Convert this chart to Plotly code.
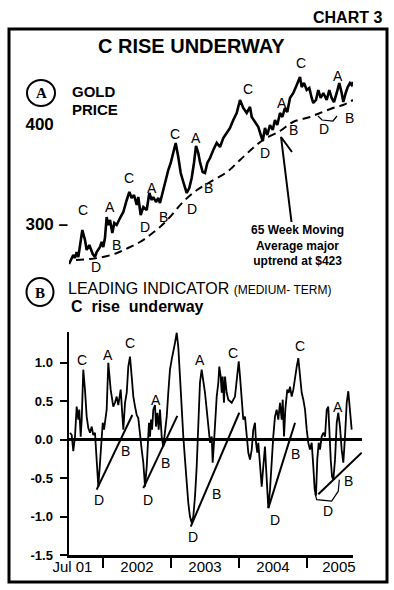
import plotly.graph_objects as go

W, H = 394, 590


def px(x):
    return x / W


def py(y):
    return 1 - y / H


SANS = "Liberation Sans, Arial, sans-serif"
NARROW = "Liberation Sans Narrow, Arial Narrow, Liberation Sans, sans-serif"
SERIF = "Liberation Serif, Times New Roman, serif"

# ---------------- data: gold price (weekly) ----------------
gold_t = [2001.50, 2001.515, 2001.563, 2001.588, 2001.613, 2001.637, 2001.662, 2001.696, 2001.735, 2001.760,
          2001.799, 2001.849, 2001.882, 2001.907, 2001.956, 2001.981, 2002.004, 2002.029, 2002.054, 2002.078,
          2002.103, 2002.137, 2002.166, 2002.201, 2002.250, 2002.299, 2002.349, 2002.387, 2002.422, 2002.456,
          2002.496, 2002.519, 2002.554, 2002.593, 2002.643, 2002.681, 2002.716, 2002.740, 2002.779, 2002.813,
          2002.838, 2002.887, 2002.937, 2002.960, 2002.996, 2003.034, 2003.069, 2003.107, 2003.143, 2003.181,
          2003.231, 2003.269, 2003.304, 2003.338, 2003.368, 2003.401, 2003.426, 2003.466, 2003.500, 2003.534,
          2003.574, 2003.622, 2003.672, 2003.721, 2003.769, 2003.819, 2003.868, 2003.916, 2003.966, 2004.015,
          2004.063, 2004.113, 2004.162, 2004.187, 2004.235, 2004.284, 2004.334, 2004.349, 2004.382, 2004.416,
          2004.456, 2004.496, 2004.529, 2004.563, 2004.603, 2004.637, 2004.676, 2004.710, 2004.750, 2004.799,
          2004.849, 2004.897, 2004.922, 2004.956, 2004.996, 2005.034, 2005.069, 2005.093, 2005.132, 2005.166,
          2005.201, 2005.240, 2005.290, 2005.328, 2005.363, 2005.397, 2005.437, 2005.475, 2005.510, 2005.534,
          2005.569, 2005.599, 2005.632, 2005.657, 2005.676]
gold_price = [260, 262, 269, 266, 272, 267, 277, 294, 284, 274,
              279, 270, 267, 272, 277, 282, 277, 286, 307, 299,
              304, 291, 301, 299, 306, 312, 324, 332, 326, 329,
              319, 327, 309, 317, 314, 331, 324, 327, 322, 326,
              321, 334, 349, 354, 361, 371, 381, 367, 351, 342,
              331, 336, 346, 361, 378, 371, 362, 352, 351, 361,
              366, 374, 381, 377, 386, 391, 396, 404, 411, 424,
              416, 411, 417, 407, 402, 397, 386, 383, 396, 389,
              399, 394, 404, 399, 411, 407, 416, 412, 426, 431,
              439, 447, 437, 441, 434, 436, 426, 421, 424, 434,
              426, 431, 424, 434, 426, 422, 431, 441, 431, 422,
              431, 437, 441, 439, 442]

# 65 week moving average
ma_t = [2001.603, 2001.809, 2002.000, 2002.206, 2002.368, 2002.544, 2002.691, 2002.838, 2002.985, 2003.176,
        2003.382, 2003.574, 2003.824, 2004.015, 2004.206, 2004.353, 2004.603, 2004.794, 2005.044, 2005.191,
        2005.382, 2005.529, 2005.676]
ma_price = [264, 265, 267, 271, 276, 282, 289, 297, 307, 322,
            334, 342, 352, 364, 376, 384, 393, 402, 407, 411,
            416, 419, 424]

gold_ticks = [300, 400]
gold_ticktext = ["300 \u2013", "400\u00a0\u00a0\u00a0"]

# wave labels on gold panel
gold_lbl = ["C", "A", "B", "D", "C", "A", "D", "B", "C", "A", "D", "B",
            "C", "A", "D", "B", "C", "A", "D", "B", "C"]
gold_lbl_t = [2001.710, 2002.103, 2002.201, 2001.897, 2002.382, 2002.716, 2002.618, 2002.887, 2003.059, 2003.363,
              2003.304, 2003.549, 2004.137, 2004.628, 2004.382, 2004.799, 2004.907, 2005.460, 2005.254, 2005.632,
              2005.731]
gold_lbl_p = [314, 317, 279, 257, 346, 336, 297, 307, 390, 386,
              315, 336, 435, 421, 371, 394, 461, 448, 395, 406,
              468]

# arrow to the moving average
arrow_t = [2004.772, 2004.618, 2004.779]
arrow_p = [302, 387, 372]

# bracket under last gold D
gold_br_t = [2005.162, 2005.221, 2005.382, 2005.441]
gold_br_p = [408, 404, 403, 408]

# ---------------- data: leading indicator ----------------
ind_t = [2001.515, 2001.540, 2001.563, 2001.588, 2001.613, 2001.637, 2001.651, 2001.672, 2001.687, 2001.710,
         2001.735, 2001.760, 2001.784, 2001.809, 2001.834, 2001.857, 2001.882, 2001.907, 2001.931, 2001.956,
         2001.981, 2001.996, 2002.015, 2002.029, 2002.054, 2002.078, 2002.093, 2002.113, 2002.151, 2002.176,
         2002.201, 2002.225, 2002.260, 2002.284, 2002.299, 2002.324, 2002.349, 2002.372, 2002.397, 2002.422,
         2002.446, 2002.471, 2002.496, 2002.519, 2002.544, 2002.569, 2002.593, 2002.618, 2002.643, 2002.657,
         2002.676, 2002.691, 2002.706, 2002.721, 2002.740, 2002.765, 2002.779, 2002.799, 2002.819, 2002.838,
         2002.863, 2002.887, 2002.912, 2002.937, 2002.960, 2002.985, 2003.010, 2003.034, 2003.059, 2003.084,
         2003.107, 2003.132, 2003.157, 2003.181, 2003.206, 2003.231, 2003.254, 2003.279, 2003.304, 2003.328,
         2003.353, 2003.378, 2003.393, 2003.412, 2003.426, 2003.451, 2003.475, 2003.500, 2003.525, 2003.549,
         2003.574, 2003.599, 2003.613, 2003.632, 2003.647, 2003.672, 2003.696, 2003.710, 2003.731, 2003.746,
         2003.760, 2003.779, 2003.794, 2003.819, 2003.843, 2003.893, 2003.941, 2003.975, 2003.996, 2004.015,
         2004.040, 2004.063, 2004.088, 2004.113, 2004.137, 2004.162, 2004.187, 2004.210, 2004.235, 2004.250,
         2004.269, 2004.284, 2004.309, 2004.334, 2004.357, 2004.382, 2004.397, 2004.416, 2004.431, 2004.456,
         2004.481, 2004.504, 2004.529, 2004.554, 2004.578, 2004.603, 2004.628, 2004.643, 2004.662, 2004.681,
         2004.710, 2004.731, 2004.750, 2004.775, 2004.799, 2004.824, 2004.849, 2004.872, 2004.897, 2004.922,
         2004.946, 2004.971, 2004.996, 2005.019, 2005.044, 2005.069, 2005.093, 2005.113, 2005.132, 2005.151,
         2005.172, 2005.191, 2005.216, 2005.240, 2005.265, 2005.290, 2005.313, 2005.328, 2005.349, 2005.368,
         2005.387, 2005.412, 2005.437, 2005.460, 2005.485, 2005.510, 2005.534, 2005.559, 2005.584, 2005.607,
         2005.632, 2005.657]
ind_val = [0.09, 0.06, -0.15, 0.04, 0.43, 0.26, 0.39, 0.04, 0.26, 0.91,
           0.65, 0.30, 0.15, 0.09, 0.17, 0.06, 0.09, -0.26, -0.61, -0.30,
           0.09, 0.22, 0.13, 0.26, 0.39, 1.00, 0.82, 0.65, 0.43, 0.48,
           0.56, 0.45, 0.65, 0.39, 0.13, 0.48, 0.61, 0.95, 1.08, 0.82,
           0.56, 0.43, 0.32, 0.28, 0.04, -0.13, -0.30, -0.61, -0.35, -0.04,
           0.22, 0.04, 0.26, 0.13, 0.39, 0.45, 0.17, 0.35, 0.13, 0.39,
           0.04, -0.09, 0.09, 0.30, 0.61, 0.91, 1.04, 1.13, 1.26, 1.39,
           1.21, 0.82, 0.39, 0.04, -0.26, -0.61, -0.82, -1.00, -1.08, -1.00,
           -0.74, -0.35, 0.04, 0.39, 0.74, 0.91, 0.78, 0.61, 0.39, 0.17,
           -0.04, 0.04, -0.30, -0.04, 0.26, 0.56, 0.74, 0.95, 0.82, 0.61,
           0.82, 0.48, 0.82, 0.61, 0.52, 0.48, 0.56, 0.82, 1.02, 0.82,
           0.48, 0.26, 0.30, 0.04, -0.17, -0.26, -0.13, 0.13, 0.22, -0.04,
           -0.17, -0.04, -0.30, -0.61, -0.35, -0.09, -0.35, -0.74, -0.89, -0.65,
           -0.26, 0.04, 0.30, 0.39, 0.26, 0.48, 0.26, 0.52, 0.04, 0.39,
           0.65, 0.61, 0.69, 0.56, 0.65, 0.82, 0.95, 1.06, 0.82, 0.61,
           0.52, 0.39, 0.13, -0.04, -0.13, -0.04, -0.35, -0.65, -0.73, -0.26,
           -0.04, -0.13, 0.04, 0.09, 0.04, 0.39, 0.43, 0.04, -0.26, -0.48,
           -0.52, -0.26, 0.22, 0.35, 0.17, -0.13, -0.30, 0.04, 0.48, 0.63,
           0.39, 0.13]

ind_ticks = [-1.5, -1.0, -0.5, 0.0, 0.5, 1.0]
ind_ticktext = ["-1.5", "-1.0", "-0.5", "0.0", "0.5", "1.0"]

year_ticks = [2002, 2003, 2004, 2005]
x_label_pos = [2001.55, 2002.5, 2003.5, 2004.5, 2005.47]
x_label_text = ["Jul 01", "2002", "2003", "2004", "2005"]

# uptrend lines D -> B
trend_t0 = [2001.907, 2002.593, 2003.290, 2004.431, 2005.166]
trend_v0 = [-0.65, -0.63, -1.13, -0.89, -0.71]
trend_t1 = [2002.431, 2003.093, 2004.004, 2004.824, 2005.804]
trend_v1 = [0.32, 0.31, 0.35, 0.22, -0.17]

# bracket under last indicator D
ind_br_t = [2005.118, 2005.143, 2005.363, 2005.460, 2005.475]
ind_br_v = [-0.70, -0.78, -0.80, -0.67, -0.52]

ind_lbl = ["C", "A", "C", "A", "C", "A", "C", "C", "A", "C",
           "D", "B", "D", "B", "D", "B", "D", "B", "D", "B"]
ind_lbl_t = [2001.696, 2002.078, 2002.397, 2002.779, 2003.096, 2003.426, 2003.916, 2004.897, 2005.460, 2005.731,
             2001.946, 2002.324, 2002.666, 2002.912, 2003.319, 2003.672, 2004.529, 2004.824, 2005.313, 2005.607]
ind_lbl_v = [1.04, 1.10, 1.26, 0.52, 1.51, 1.04, 1.13, 1.22, 0.43, 0.94,
             -0.78, -0.15, -0.78, -0.30, -1.26, -0.71, -1.04, -0.19, -0.93, -0.54]

# ---------------- figure ----------------
X_START = 2001.5
PX_PER_YEAR = 68.0
LEFT, RIGHT, RIGHT_EXT = 69, 353, 362
x_end = X_START + (RIGHT - LEFT) / PX_PER_YEAR
x_end_ext = X_START + (RIGHT_EXT - LEFT) / PX_PER_YEAR

fig = go.Figure()

# gold
fig.add_trace(go.Scatter(x=gold_t, y=gold_price, mode="lines", xaxis="x", yaxis="y2",
                         line=dict(color="black", width=2.6), hoverinfo="skip"))
fig.add_trace(go.Scatter(x=ma_t, y=ma_price, mode="lines", xaxis="x", yaxis="y2",
                         line=dict(color="black", width=2, dash="8px,5px", shape="spline"), hoverinfo="skip"))
fig.add_trace(go.Scatter(x=gold_br_t, y=gold_br_p, mode="lines", xaxis="x", yaxis="y2",
                         line=dict(color="black", width=1.2), hoverinfo="skip"))
fig.add_trace(go.Scatter(x=arrow_t, y=arrow_p, mode="lines", xaxis="x", yaxis="y2",
                         line=dict(color="black", width=2), hoverinfo="skip"))

# indicator
fig.add_trace(go.Scatter(x=ind_t, y=ind_val, mode="lines", xaxis="x", yaxis="y",
                         line=dict(color="black", width=1.8), hoverinfo="skip"))
tx, ty = [], []
for a, b, c, d in zip(trend_t0, trend_v0, trend_t1, trend_v1):
    tx += [a, c, None]
    ty += [b, d, None]
fig.add_trace(go.Scatter(x=tx, y=ty, mode="lines", xaxis="x3", yaxis="y",
                         line=dict(color="black", width=2), hoverinfo="skip"))
fig.add_trace(go.Scatter(x=ind_br_t, y=ind_br_v, mode="lines", xaxis="x", yaxis="y",
                         line=dict(color="black", width=1.2), hoverinfo="skip"))
# invisible trace so the label axis is drawn
fig.add_trace(go.Scatter(x=x_label_pos, y=[0] * len(x_label_pos), mode="lines", xaxis="x2", yaxis="y",
                         line=dict(color="rgba(0,0,0,0)", width=0), hoverinfo="skip"))

annotations = []
for s, t, v in zip(gold_lbl, gold_lbl_t, gold_lbl_p):
    annotations.append(dict(x=t, y=v, xref="x", yref="y2", text=s, showarrow=False,
                            xanchor="center", yanchor="middle",
                            font=dict(family=SANS, size=14, color="black")))
for s, t, v in zip(ind_lbl, ind_lbl_t, ind_lbl_v):
    annotations.append(dict(x=t, y=v, xref="x", yref="y", text=s, showarrow=False,
                            xanchor="center", yanchor="middle",
                            font=dict(family=SANS, size=14, color="black")))


def label(x, y, text, size, weight="normal", family=SANS, xanchor="center"):
    return dict(x=px(x), y=py(y), xref="paper", yref="paper", text=text, showarrow=False,
                xanchor=xanchor, yanchor="middle",
                font=dict(family=family, size=size, color="black", weight=weight))


annotations += [
    label(347, 18, "CHART 3", 16, "bold"),
    label(191, 46, "C RISE UNDERWAY", 20, "bold"),
    label(41, 93, "A", 15, "bold", SERIF),
    label(70, 91, "GOLD", 15, "bold", xanchor="left"),
    label(70, 110, "PRICE", 15, "bold", xanchor="left"),
    label(297, 245, "65 Week Moving<br>Average major<br>uptrend at $423", 12, "bold"),
    label(40, 293, "B", 15, "bold", SERIF),
    label(66, 288, "LEADING INDICATOR <span style='font-size:12px'>(MEDIUM- TERM)</span>", 16,
          xanchor="left"),
    label(69, 306, "C  rise  underway", 16, "bold", xanchor="left"),
]

shapes = [
    dict(type="rect", xref="paper", yref="paper", x0=px(9), x1=px(387), y0=py(582), y1=py(29),
         line=dict(color="black", width=3)),
    dict(type="circle", xref="paper", yref="paper", x0=px(27), x1=px(55), y0=py(106), y1=py(80),
         line=dict(color="black", width=2)),
    dict(type="circle", xref="paper", yref="paper", x0=px(26.5), x1=px(53.5), y0=py(306), y1=py(278),
         line=dict(color="black", width=2)),
]

fig.update_layout(
    template="none",
    width=W, height=H, autosize=False,
    margin=dict(l=0, r=0, t=0, b=0, pad=0, autoexpand=False),
    paper_bgcolor="white", plot_bgcolor="rgba(0,0,0,0)",
    showlegend=False, hovermode=False,
    annotations=annotations, shapes=shapes,
    xaxis=dict(domain=[px(LEFT), px(RIGHT)], range=[X_START, x_end], anchor="y", automargin=False,
               showline=True, linecolor="black", linewidth=2.5, mirror=False,
               ticks="outside", tickvals=year_ticks, ticklen=10, tickwidth=2, tickcolor="black",
               showticklabels=False, showgrid=False, zeroline=False, fixedrange=True),
    xaxis2=dict(overlaying="x", anchor="y", side="bottom", range=[X_START, x_end], automargin=False,
                tickvals=x_label_pos, ticktext=x_label_text, ticks="", showline=False,
                showgrid=False, zeroline=False, ticklabelstandoff=1,
                tickfont=dict(family=SANS, size=15, color="black")),
    xaxis3=dict(domain=[px(LEFT), px(RIGHT_EXT)], range=[X_START, x_end_ext], anchor="y",
                automargin=False, visible=False, showgrid=False, zeroline=False),
    yaxis=dict(domain=[py(555), py(332)], range=[-1.5, 1.40], anchor="x", automargin=False,
               showline=True, linecolor="black", linewidth=2.5,
               ticks="outside", ticklen=7, tickwidth=2, tickcolor="black",
               tickvals=ind_ticks, ticktext=ind_ticktext, ticklabelstandoff=4,
               tickfont=dict(family=SANS, size=13, color="black", weight="bold"),
               showgrid=False, zeroline=True, zerolinecolor="black", zerolinewidth=3),
    yaxis2=dict(domain=[py(270), py(55)], range=[254, 469], anchor="x", automargin=False,
                showline=False, ticks="", tickvals=gold_ticks, ticktext=gold_ticktext,
                ticklabelstandoff=0,
                tickfont=dict(family=NARROW, size=17, color="black", weight="bold"),
                showgrid=False, zeroline=False),
)

fig.write_html("out.html", config={"displayModeBar": False, "staticPlot": True},
               post_script="document.body.style.margin='0px';document.body.style.overflow='hidden';")
